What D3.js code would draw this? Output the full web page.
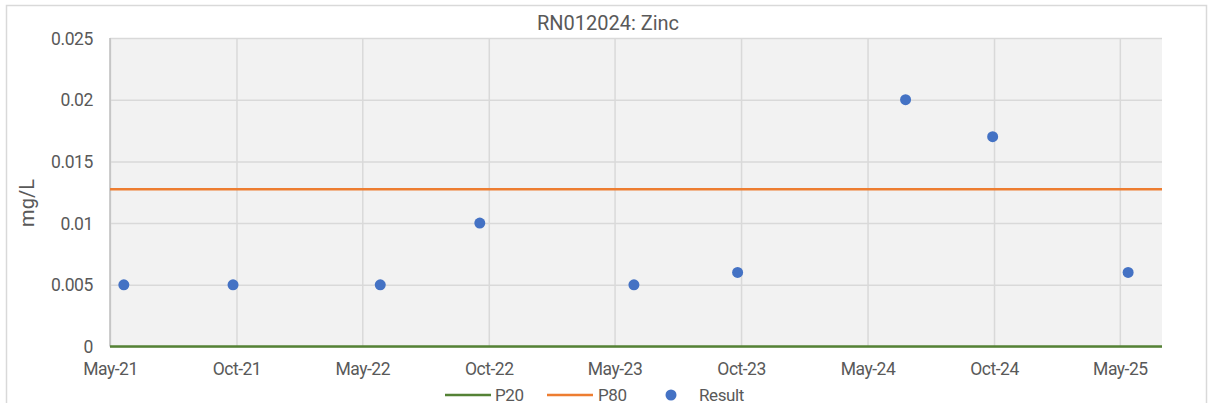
<!DOCTYPE html>
<html>
<head>
<meta charset="utf-8">
<script src="https://cdn.jsdelivr.net/npm/d3@7"></script>
<style>
  body { margin: 0; background: #fff; }
  text { font-family: "Roboto", "Liberation Sans", sans-serif; fill: #595959; }
</style>
</head>
<body>
<div id="chart"></div>
<script>
// Sample dates and results (mg/L)
var sampleDates = ["2021-05-21", "2021-10-26", "2022-05-27", "2022-10-18", "2023-05-29",
                   "2023-10-26", "2024-06-25", "2024-10-29", "2025-05-13"];
var results = [0.005, 0.005, 0.005, 0.01, 0.005, 0.006, 0.02, 0.017, 0.006];

// Percentile reference lines
var p20 = 0;
var p80 = 0.01275;

// Axis ticks
var xTickDates = ["2021-05-01", "2021-10-31", "2022-05-01", "2022-10-31", "2023-05-01",
                  "2023-10-31", "2024-05-01", "2024-10-31", "2025-05-01"];
var xDomain = ["2021-05-01", "2025-07-01"];
var yTicks = [0, 0.005, 0.01, 0.015, 0.02, 0.025];

var parse = d3.timeParse("%Y-%m-%d");

var svg = d3.select("#chart").append("svg").attr("width", 1208).attr("height", 403);

// chart border
svg.append("rect")
    .attr("x", 6.5).attr("y", 5.5).attr("width", 1200).attr("height", 420)
    .attr("fill", "#fff").attr("stroke", "#d9d9d9").attr("stroke-width", 1.5);

var margin = { left: 110, top: 38, right: 46, bottom: 56.5 };
var width = 1208 - margin.left - margin.right;
var height = 403 - margin.top - margin.bottom;

var chart = svg.append("g").attr("transform", "translate(" + margin.left + "," + margin.top + ")");

var x = d3.scaleTime()
    .domain(xDomain.map(parse))
    .range([0, width]);

var y = d3.scaleLinear()
    .domain([0, 0.025])
    .range([height, 0]);

// plot background
chart.append("rect")
    .attr("width", width).attr("height", height)
    .attr("fill", "#f2f2f2");

// horizontal grid
chart.append("g")
    .call(d3.axisLeft(y).tickValues(yTicks).tickSize(-width).tickFormat(""))
    .call(g => g.select(".domain").remove())
    .call(g => g.selectAll("line").attr("stroke", "#d9d9d9").attr("stroke-width", 1.5));

// vertical grid
chart.append("g")
    .attr("transform", "translate(0," + height + ")")
    .call(d3.axisBottom(x).tickValues(xTickDates.map(parse)).tickSize(-height).tickFormat(""))
    .call(g => g.select(".domain").remove())
    .call(g => g.selectAll("line").attr("stroke", "#d9d9d9").attr("stroke-width", 1.5));

// left axis line
chart.append("line")
    .attr("x1", 0).attr("x2", 0).attr("y1", 0).attr("y2", height)
    .attr("stroke", "#bfbfbf").attr("stroke-width", 1.5);

// y tick labels
chart.append("g")
    .call(d3.axisLeft(y).tickValues(yTicks).tickSize(0).tickPadding(17).tickFormat(d => d3.format("")(+d.toFixed(3))))
    .call(g => g.select(".domain").remove())
    .call(g => g.selectAll("text").style("font-size", "17.5px").style("letter-spacing", "-0.4px").attr("dy", "0.35em"));

// x tick labels
chart.append("g")
    .attr("transform", "translate(0," + height + ")")
    .call(d3.axisBottom(x).tickValues(xTickDates.map(parse)).tickSize(0).tickPadding(16).tickFormat(d3.timeFormat("%b-%y")))
    .call(g => g.select(".domain").remove())
    .call(g => g.selectAll("text").style("font-size", "17.5px").style("letter-spacing", "-0.5px"));

// P20 and P80 lines
chart.append("line")
    .attr("x1", 0).attr("x2", width).attr("y1", y(p20)).attr("y2", y(p20))
    .attr("stroke", "#548235").attr("stroke-width", 2.5);
chart.append("line")
    .attr("x1", 0).attr("x2", width).attr("y1", y(p80)).attr("y2", y(p80))
    .attr("stroke", "#ed7d31").attr("stroke-width", 2.5);

// result points
chart.selectAll(".dot")
    .data(results)
    .enter().append("circle")
    .attr("class", "dot")
    .attr("cx", (d, i) => x(parse(sampleDates[i])))
    .attr("cy", d => y(d))
    .attr("r", 5.5)
    .attr("fill", "#4472c4");

// title
svg.append("text")
    .attr("x", 608).attr("y", 30)
    .attr("text-anchor", "middle")
    .style("font-size", "20px")
    .text("RN012024: Zinc");

// y axis title
svg.append("text")
    .attr("transform", "translate(34,203) rotate(-90)")
    .attr("text-anchor", "middle")
    .style("font-size", "20px")
    .text("mg/L");

// legend
var legend = svg.append("g").attr("transform", "translate(445,395)");
legend.selectAll("text").data([0]);
legend.append("line").attr("x1", 0).attr("x2", 46).attr("stroke", "#548235").attr("stroke-width", 2.5);
legend.append("text").attr("x", 50).attr("dy", "0.35em").style("font-size", "17px").style("letter-spacing", "-0.4px").text("P20");
legend.append("line").attr("x1", 102).attr("x2", 148).attr("stroke", "#ed7d31").attr("stroke-width", 2.5);
legend.append("text").attr("x", 153).attr("dy", "0.35em").style("font-size", "17px").style("letter-spacing", "-0.4px").text("P80");
legend.append("circle").attr("cx", 226).attr("r", 5.5).attr("fill", "#4472c4");
legend.append("text").attr("x", 254).attr("dy", "0.35em").style("font-size", "17px").style("letter-spacing", "-0.4px").text("Result");
</script>
</body>
</html>
